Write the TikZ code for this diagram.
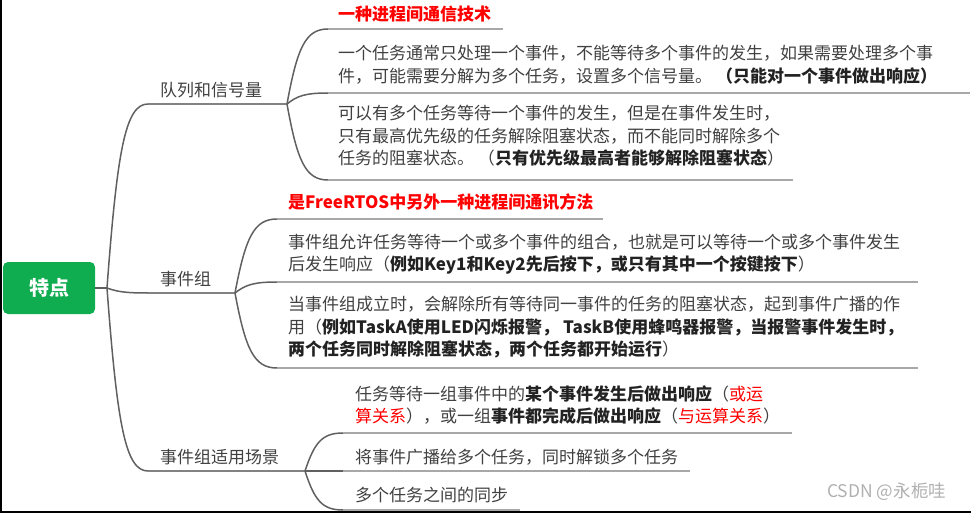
\documentclass[tikz,border=0pt]{standalone}
\usepackage{fontspec}
\setmainfont{Noto Sans CJK SC}
\usetikzlibrary{calc}
\definecolor{rootgreen}{RGB}{16,172,80}
\definecolor{curvegray}{RGB}{96,96,96}
\definecolor{linegray}{RGB}{168,168,168}
\definecolor{midgray}{RGB}{130,130,130}
\definecolor{txt}{RGB}{64,64,64}
\definecolor{boldtxt}{RGB}{34,34,34}
\definecolor{redtxt}{RGB}{255,0,0}
\definecolor{wmgray}{RGB}{176,176,176}
\newcommand\bt[1]{{\bfseries\color{boldtxt}#1}}
\newcommand\rt[1]{{\color{redtxt}#1}}
\begin{document}
\begin{tikzpicture}[x=1pt,y=-1pt,
  conn/.style={draw=curvegray,line width=1.5pt},
  uline/.style={draw=linegray,line width=2.2pt},
  lvline/.style={draw=midgray,line width=1.8pt},
  branch/.style={to path={let \p1=(\tikztostart),\p2=(\tikztotarget) in .. controls ({0.75*\x1+0.25*\x2},{0.25*\y1+0.75*\y2}) and ({0.55*\x1+0.45*\x2},\y2) .. (\tikztotarget)}},
  leaf/.style={anchor=west,inner sep=0pt,align=left,text=txt,font=\fontsize{17}{22.5}\selectfont},
  redleaf/.style={leaf,text=redtxt,font=\fontsize{17}{22.5}\selectfont\bfseries},
  lvtwo/.style={anchor=west,inner sep=0pt,text=txt,font=\fontsize{17}{22}\selectfont},
  rootbox/.style={fill=rootgreen,rounded corners=5pt,minimum width=92pt,minimum height=52pt,inner sep=0pt,text=white,font=\fontsize{20}{24}\selectfont\bfseries},
  wmark/.style={anchor=west,inner sep=0pt,text=wmgray,font=\fontsize{17.5}{20}\selectfont}
]
\useasboundingbox (0,0) rectangle (971,513);
% frame edges of the screenshot
\draw[black,line width=1.6pt] (0.8,0) -- (0.8,513);
\draw[black,line width=1.6pt] (0,511.8) -- (971,511.8);

% coordinates
\coordinate (j0) at (107,288);
\coordinate (a0) at (148,104);
\coordinate (b0) at (148,293);
\coordinate (c0) at (148,471);
\coordinate (j1) at (287,104);
\coordinate (j2) at (235,293);
\coordinate (j3) at (305,471);
\coordinate (s1) at (328,29);  \coordinate (e1) at (503,29);
\coordinate (s2) at (328,93);  \coordinate (e2) at (970,93);
\coordinate (s3) at (328,180); \coordinate (e3) at (793,180);
\coordinate (s4) at (277,219); \coordinate (e4) at (603,219);
\coordinate (s5) at (277,282); \coordinate (e5) at (918,282);
\coordinate (s6) at (277,368); \coordinate (e6) at (918,368);
\coordinate (s7) at (343,433); \coordinate (e7) at (792,433);
\coordinate (s8) at (343,471); \coordinate (e8) at (690,471);
\coordinate (s9) at (343,510); \coordinate (e9) at (520,510);

% root
\node[rootbox] (root) at (49,288) {特点};

% level 1 connectors
\draw[conn] (root.east) -- (j0);
\draw[conn] (j0) to[branch] (a0);
\draw[conn] (j0) to[branch] (b0);
\draw[conn] (j0) to[branch] (c0);
\draw[lvline] (a0) -- (j1);
\draw[lvline] (b0) -- (j2);
\draw[lvline] (c0) -- (j3);

% level 2 connectors
\foreach \s in {s1,s2,s3} {\draw[conn] (j1) to[branch] (\s);}
\foreach \s in {s4,s5,s6} {\draw[conn] (j2) to[branch] (\s);}
\foreach \s in {s7,s8,s9} {\draw[conn] (j3) to[branch] (\s);}
\foreach \s/\e in {s1/e1,s2/e2,s3/e3,s4/e4,s5/e5,s6/e6,s7/e7,s8/e8,s9/e9} {\draw[uline] (\s) -- (\e);}

% level 1 labels
\node[lvtwo] (qa) at (160,90) {队列和信号量};
\node[lvtwo] (qb) at (160,279) {事件组};
\node[lvtwo] (qc) at (160,457) {事件组适用场景};

% leaves
\node[redleaf] (t1) at (338,14) {一种进程间通信技术};
\node[leaf] (t2) at (338,64.5) {一个任务通常只处理一个事件，不能等待多个事件的发生，如果需要处理多个事\\件，可能需要分解为多个任务，设置多个信号量。 \bt{（只能对一个事件做出响应）}};
\node[leaf] (t3) at (338,136) {可以有多个任务等待一个事件的发生，但是在事件发生时，\\只有最高优先级的任务解除阻塞状态，而不能同时解除多个\\任务的阻塞状态。 （\bt{只有优先级最高者能够解除阻塞状态}）};
\node[redleaf] (t4) at (288,202) {是FreeRTOS中另外一种进程间通讯方法};
\node[leaf] (t5) at (288,254) {事件组允许任务等待一个或多个事件的组合，也就是可以等待一个或多个事件发生\\后发生响应（\bt{例如Key1和Key2先后按下，或只有其中一个按键按下}）};
\node[leaf] (t6) at (288,327.5) {当事件组成立时，会解除所有等待同一事件的任务的阻塞状态，起到事件广播的作\\用（\bt{例如TaskA使用LED闪烁报警， TaskB使用蜂鸣器报警，当报警事件发生时，}\\\bt{两个任务同时解除阻塞状态，两个任务都开始运行}）};
\node[leaf] (t7) at (355,405) {任务等待一组事件中的\bt{某个事件发生后做出响应}（\rt{或运}\\\rt{算关系}），或一组\bt{事件都完成后做出响应}（\rt{与运算关系}）};
\node[leaf] (t8) at (355,457) {将事件广播给多个任务，同时解锁多个任务};
\node[leaf] (t9) at (355,495) {多个任务之间的同步};

\node[wmark] (wm) at (827,492) {CSDN @永栀哇};
\end{tikzpicture}
\end{document}
